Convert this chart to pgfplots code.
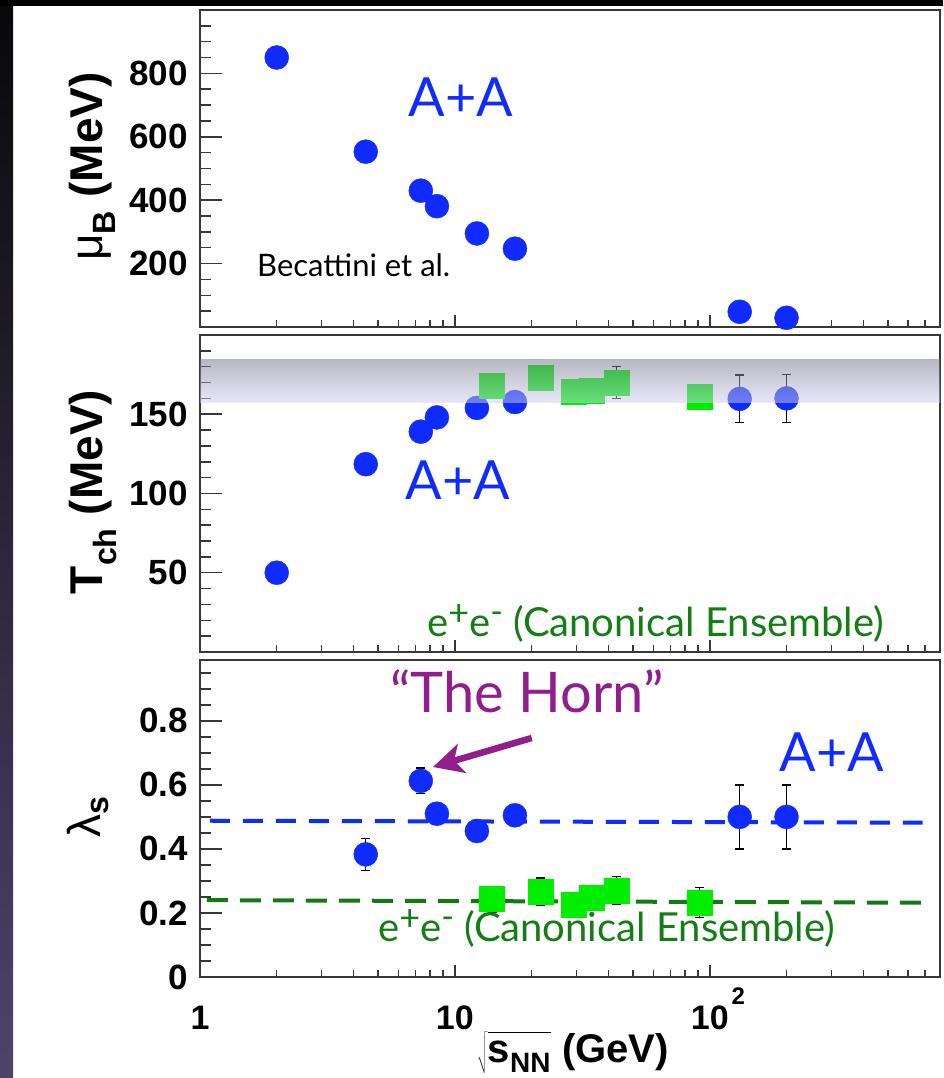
\documentclass[border=0pt]{standalone}
\usepackage{pgfplots}
\pgfplotsset{compat=1.18}
\usepackage{fontspec}
\setmainfont{Lato}
\newfontfamily\hel{Liberation Sans}
\usetikzlibrary{arrows.meta}
\definecolor{aablue}{RGB}{16,43,255}
\definecolor{eegreen}{RGB}{0,238,0}
\definecolor{txtgreen}{RGB}{20,125,20}
\definecolor{dashgreen}{RGB}{20,120,20}
\definecolor{horn}{RGB}{145,30,140}
\definecolor{framec}{RGB}{55,55,55}
\definecolor{bandtop}{RGB}{115,115,135}
\definecolor{bandbot}{RGB}{209,209,245}
\definecolor{striptop}{RGB}{8,8,10}
\definecolor{stripbot}{RGB}{78,68,105}
\pgfplotsset{
  scale only axis,
  axis line style={framec, line width=1.8pt},
  tick pos=left, tick align=inside,
  major tick length=22pt, minor tick length=11pt,
  tick style={framec, line width=1.5pt},
  ticklabel style={font=\hel\bfseries\fontsize{35}{35}\selectfont},
  yticklabel style={anchor=east, inner sep=0pt, xshift=-12pt},
  xticklabel style={anchor=base, inner sep=0pt, yshift=-53pt, font=\hel\bfseries\fontsize{34}{34}\selectfont},
  /pgf/number format/assume math mode=true,
}
\newcommand{\ee}{e\raisebox{11pt}{\fontsize{36}{36}\selectfont +}e\raisebox{13pt}{\fontsize{34}{34}\selectfont -}}
\begin{document}
\begin{tikzpicture}
\useasboundingbox (0,0) rectangle (943pt,1078pt);
\fill[white] (0,0) rectangle (943pt,1078pt);
\shade[top color=striptop, bottom color=stripbot] (0,0) rectangle (13pt,1078pt);
\fill[black] (0,1072pt) rectangle (943pt,1078pt);

% ---------- top panel: mu_B ----------
\begin{axis}[xmode=log, xmin=1, xmax=800, width=740pt, height=317pt, anchor=south west, clip=false,
  xtick={1,10,100},
  minor xtick={2,3,4,5,6,7,8,9,20,30,40,50,60,70,80,90,200,300,400,500,600,700},
  xtick style={/pgfplots/major tick length=12pt,/pgfplots/minor tick length=6.5pt},
  at={(200pt,751pt)}, ymin=0, ymax=1000,
  ytick={200,400,600,800}, yticklabels={200,400,600,800},
  minor ytick={50,100,150,250,300,350,450,500,550,650,700,750,850,900,950},
  xticklabels={}]
\addplot[only marks, mark=*, mark size=12pt, color=aablue, mark options={draw=aablue, fill=aablue}]
  coordinates {(2.0,850) (4.47,553) (7.35,430) (8.5,381) (12.2,295) (17.2,247) (131,48) (200,29)};
\end{axis}

% ---------- middle panel: T_ch ----------
\begin{axis}[xmode=log, xmin=1, xmax=800, width=740pt, height=317pt, anchor=south west, clip=false,
  xtick={1,10,100},
  minor xtick={2,3,4,5,6,7,8,9,20,30,40,50,60,70,80,90,200,300,400,500,600,700},
  xtick style={/pgfplots/major tick length=12pt,/pgfplots/minor tick length=6.5pt},
  at={(200pt,426pt)}, ymin=0, ymax=200,
  ytick={50,100,150}, yticklabels={50,100,150},
  minor ytick={10,20,30,40,60,70,80,90,110,120,130,140,160,170,180,190},
  xticklabels={}]
\addplot[only marks, mark=none, error bars/.cd, y dir=both, y explicit,
  error bar style={black, line width=1.3pt},
  error mark options={rotate=90, mark size=4.5pt, black, line width=1.3pt}]
  coordinates {(131,159.7) +- (0,15) (200,160) +- (0,15) (43,170) +- (0,10)};
\addplot[only marks, mark=*, mark size=12pt, color=aablue, mark options={draw=aablue, fill=aablue}]
  coordinates {(2.0,50) (4.47,118.5) (7.35,139) (8.5,148) (12.2,154) (17.2,157.7) (131,159.7) (200,160)};
\addplot[only marks, mark=square*, mark size=12.5pt, color=eegreen, mark options={draw=eegreen, fill=eegreen}]
  coordinates {(14,168) (21.7,173) (29.3,164) (34.4,165) (43,170) (91,161)};
\end{axis}
% band overlay, drawn above the points
\begin{axis}[xmode=log, xmin=1, xmax=800, width=740pt, height=317pt, anchor=south west,
  at={(200pt,426pt)}, ymin=0, ymax=200, hide axis]
\addplot[draw=none, top color=bandtop, bottom color=bandbot, opacity=0.5]
  coordinates {(1,157.3) (800,157.3) (800,184.6) (1,184.6)} -- cycle;
\end{axis}

% ---------- bottom panel: lambda_s ----------
\begin{axis}[xmode=log, xmin=1, xmax=800, width=740pt, height=317pt, anchor=south west, clip=false,
  xtick={1,10,100},
  minor xtick={2,3,4,5,6,7,8,9,20,30,40,50,60,70,80,90,200,300,400,500,600,700},
  xtick style={/pgfplots/major tick length=12pt,/pgfplots/minor tick length=6.5pt},
  at={(200pt,101pt)}, ymin=0, ymax=0.99,
  ytick={0,0.2,0.4,0.6,0.8}, yticklabels={0,0.2,0.4,0.6,0.8},
  minor ytick={0.05,0.1,0.15,0.25,0.3,0.35,0.45,0.5,0.55,0.65,0.7,0.75,0.85,0.9,0.95},
  xticklabels={1,10,{10\rlap{\hspace{3pt}\raisebox{25pt}{\fontsize{24}{24}\selectfont 2}}}}]
\addplot[aablue, line width=4pt, dash pattern=on 20pt off 13pt] coordinates {(1.094,0.488) (684,0.482)};
\addplot[dashgreen, line width=4pt, dash pattern=on 21pt off 12pt] coordinates {(1.065,0.240) (676,0.232)};
\addplot[only marks, mark=none, error bars/.cd, y dir=both, y explicit,
  error bar style={black, line width=1.3pt},
  error mark options={rotate=90, mark size=4.5pt, black, line width=1.3pt}]
  coordinates {(4.47,0.383) +- (0,0.05) (7.35,0.6125) +- (0,0.04) (131,0.50) +- (0,0.1) (200,0.50) +- (0,0.1)
               (14,0.243) +- (0,0.04) (21.7,0.267) +- (0,0.042) (43,0.271) +- (0,0.043) (91,0.232) +- (0,0.047)};
\addplot[only marks, mark=*, mark size=12pt, color=aablue, mark options={draw=aablue, fill=aablue}]
  coordinates {(4.47,0.383) (7.35,0.6125) (8.5,0.51) (12.2,0.456) (17.2,0.505) (131,0.50) (200,0.50)};
\addplot[only marks, mark=square*, mark size=12.5pt, color=eegreen, mark options={draw=eegreen, fill=eegreen}]
  coordinates {(14,0.243) (21.7,0.267) (29.3,0.227) (34.4,0.248) (43,0.271) (91,0.232)};
\end{axis}

% ---------- annotations ----------
\node[anchor=base, text=aablue, font=\fontsize{54}{54}\selectfont, inner sep=0pt] at (461pt,961pt) {A+A};
\node[anchor=base west, font=\fontsize{31}{31}\selectfont, inner sep=0pt] at (257pt,801pt) {Becattini et al.};
\node[anchor=base, text=aablue, font=\fontsize{54}{54}\selectfont, inner sep=0pt] at (458pt,578pt) {A+A};
\node[anchor=base west, text=txtgreen, font=\fontsize{40}{40}\selectfont, inner sep=0pt] at (427pt,441pt) {\ee{} (Canonical Ensemble)};
\node[anchor=base, text=horn, font=\fontsize{56}{56}\selectfont, inner sep=0pt] at (527pt,365pt) {“The Horn”};
\draw[horn, line width=6.5pt, -{Stealth[length=30pt,width=30pt,inset=8pt]}] (531.7pt,340pt) -- (433pt,311pt);
\node[anchor=base, text=aablue, font=\fontsize{54}{54}\selectfont, inner sep=0pt] at (832pt,306pt) {A+A};
\node[anchor=base west, text=txtgreen, font=\fontsize{40}{40}\selectfont, inner sep=0pt] at (378pt,136pt) {\ee{} (Canonical Ensemble)};

% ---------- axis titles ----------
\node[rotate=90, anchor=base, inner sep=0pt, font=\hel\fontsize{46}{46}\selectfont] at (102pt,911.5pt) {μ\textsubscript{\bfseries B} \textbf{(MeV)}};
\node[rotate=90, anchor=base, inner sep=0pt, font=\hel\bfseries\fontsize{46}{46}\selectfont] at (102pt,586pt) {T\textsubscript{ch} (MeV)};
\node[rotate=90, anchor=base, inner sep=0pt, font=\hel\fontsize{46}{46}\selectfont] at (100pt,261pt) {λ\textsubscript{\bfseries s}};
\node[anchor=base, inner sep=0pt, font=\hel\bfseries\fontsize{40}{40}\selectfont] at (573pt,16pt) {$\sqrt{\mbox{\rule[-6pt]{0pt}{34pt}s\textsubscript{NN}}}$ (GeV)};
\end{tikzpicture}
\end{document}
